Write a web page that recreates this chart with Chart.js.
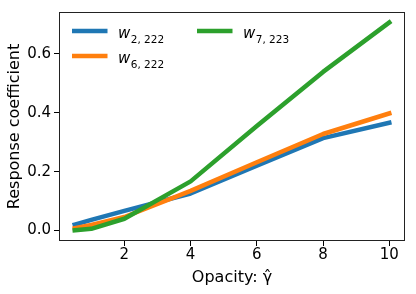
<!DOCTYPE html>
<html lang="en">
<head>
<meta charset="UTF-8">
<title>Response coefficient vs opacity</title>
<style>
  html, body { margin: 0; padding: 0; background: #fff; }
  #chart { display: block; }
</style>
</head>
<body>
<canvas id="chart" width="416" height="294"></canvas>
<script src="https://cdn.jsdelivr.net/npm/chart.js"></script>
<script>
// x values (opacity gamma-hat)
const opacity = [0.5, 1, 2, 4, 6, 8, 10];
// response coefficient for each weight
const w2_222 = [0.020, 0.036, 0.067, 0.126, 0.220, 0.314, 0.366];
const w6_222 = [0.008, 0.019, 0.046, 0.135, 0.232, 0.328, 0.398];
const w7_223 = [0.001, 0.006, 0.040, 0.167, 0.355, 0.539, 0.707];
const seriesSubs = ["2, 222", "6, 222", "7, 223"];
const seriesColors = ["#1f77b4", "#ff7f0e", "#2ca02c"];
const xTicks = [2, 4, 6, 8, 10];
const yTicks = [0.0, 0.2, 0.4, 0.6];

const FONT = "'DejaVu Sans', sans-serif";

function toPoints(ys) {
  return opacity.map((x, i) => ({ x: x, y: ys[i] }));
}

const datasets = [w2_222, w6_222, w7_223].map((ys, i) => ({
  label: "w" + seriesSubs[i],
  data: toPoints(ys),
  borderColor: seriesColors[i],
  borderWidth: 4.5,
  borderCapStyle: "square",
  borderJoinStyle: "round",
  pointRadius: 0,
  tension: 0,
  fill: false,
  order: 2 - i, // later series drawn on top
}));

// full box around the plot area, like matplotlib spines
const framePlugin = {
  id: "frame",
  afterDatasetsDraw(chart) {
    const { ctx, chartArea: a } = chart;
    ctx.save();
    ctx.strokeStyle = "#222";
    ctx.lineWidth = 1;
    ctx.strokeRect(Math.round(a.left) + 0.5, Math.round(a.top) + 0.5,
      Math.round(a.right - a.left) - 1, Math.round(a.bottom - a.top) - 1);
    ctx.restore();
  },
};

// two-column legend, filled column first, with subscripted labels
const legendPlugin = {
  id: "subLegend",
  afterDraw(chart) {
    const { ctx } = chart;
    const colX = [72, 197];
    const rowY = [31, 56];
    ctx.save();
    chart.data.datasets.forEach((ds, i) => {
      const x = colX[Math.floor(i / 2)];
      const y = rowY[i % 2];
      ctx.strokeStyle = ds.borderColor;
      ctx.lineWidth = 4.5;
      ctx.lineCap = "butt";
      ctx.beginPath();
      ctx.moveTo(x, y);
      ctx.lineTo(x + 35.5, y);
      ctx.stroke();
      ctx.fillStyle = "#000";
      ctx.textBaseline = "alphabetic";
      ctx.textAlign = "left";
      ctx.font = "oblique 15px " + FONT;
      ctx.fillText("w", x + 46, y + 6.5);
      const ww = ctx.measureText("w").width;
      ctx.font = "10.5px " + FONT;
      ctx.fillText(seriesSubs[i], x + 46 + ww + 0.5, y + 12);
    });
    ctx.restore();
  },
};

const ctx = document.getElementById("chart").getContext("2d");
new Chart(ctx, {
  type: "line",
  data: { datasets: datasets },
  options: {
    responsive: false,
    animation: false,
    layout: { padding: { top: 11, right: 11, left: 0, bottom: 0 } },
    plugins: { legend: { display: false }, tooltip: { enabled: false } },
    scales: {
      x: {
        type: "linear",
        min: 0.025,
        max: 10.475,
        afterBuildTicks: (s) => { s.ticks = xTicks.map((v) => ({ value: v })); },
        afterFit: (s) => { s.height = 53; },
        grid: { drawOnChartArea: false, drawTicks: true, tickLength: 5, color: "#000" },
        border: { display: false },
        ticks: { color: "#000", padding: 0, maxRotation: 0, font: { family: FONT, size: 15 } },
        title: {
          display: true,
          text: "Opacity: \u03b3\u0302",
          color: "#000",
          font: { family: FONT, size: 16 },
          padding: { top: 0, bottom: 7 },
        },
      },
      y: {
        min: -0.0355,
        max: 0.7425,
        afterBuildTicks: (s) => { s.ticks = yTicks.map((v) => ({ value: v })); },
        afterFit: (s) => { s.width = 59; },
        grid: { drawOnChartArea: false, drawTicks: true, tickLength: 5, color: "#000" },
        border: { display: false },
        ticks: {
          color: "#000",
          padding: 3,
          font: { family: FONT, size: 15 },
          callback: (v) => v.toFixed(1),
        },
        title: {
          display: true,
          text: "Response coefficient",
          color: "#000",
          font: { family: FONT, size: 16 },
          padding: { top: 5, bottom: 0 },
        },
      },
    },
  },
  plugins: [framePlugin, legendPlugin],
});
</script>
</body>
</html>
